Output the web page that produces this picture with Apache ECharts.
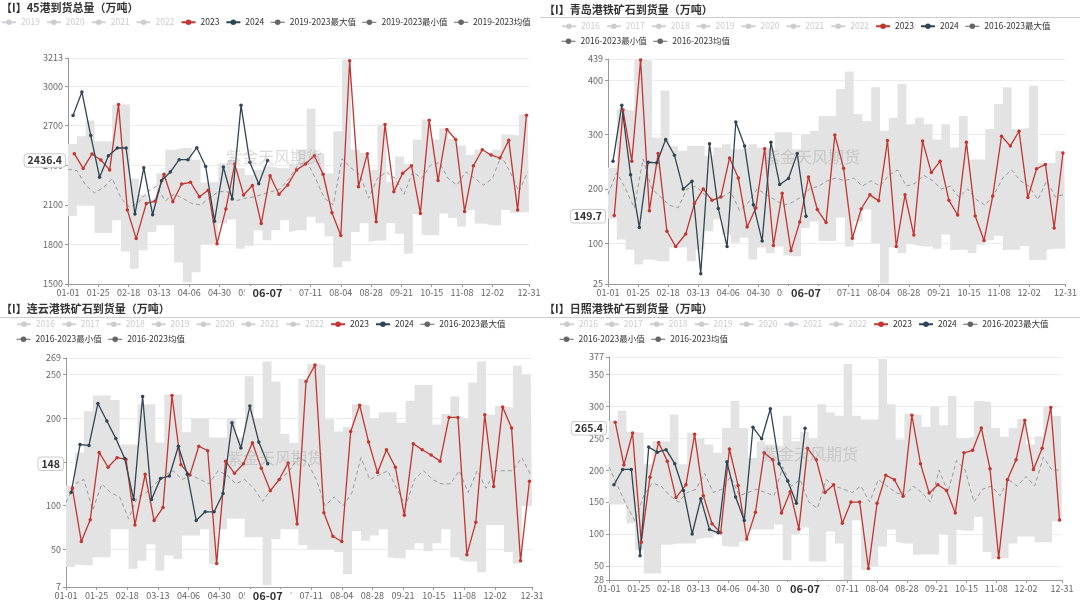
<!DOCTYPE html>
<html><head><meta charset="utf-8">
<script src="https://cdn.jsdelivr.net/npm/echarts@6/dist/echarts.min.js"></script>
<style>html,body{margin:0;padding:0;background:#fff}#c{width:1080px;height:603px}</style>
</head><body><div id="c"></div>
<script>
// ---------- text ----------
const titles = ['【I】45港到货总量（万吨）', '【I】青岛港铁矿石到货量（万吨）', '【I】连云港铁矿石到货量（万吨）', '【I】日照港铁矿石到货量（万吨）'];
const watermark = '紫金天风期货';
const yearsAll = ['2016', '2017', '2018', '2019', '2020', '2021', '2022'];
const p1Years = ['2019', '2020', '2021', '2022'];
const p1StatNames = ['2019-2023最大值', '2019-2023最小值', '2019-2023均值'];
const pStatNames = ['2016-2023最大值', '2016-2023最小值', '2016-2023均值'];
const yMins = [1500, 25, 7, 28];
const yMaxs = [3213, 439, 269, 377];

// ---------- 45港 ----------
const p1Red2023 = [2488, 2376, 2485, 2440, 2365, 2860, 2060, 1844, 2111, 2128, 2332, 2124, 2258, 2271, 2162, 2210, 1806, 2068, 2409, 2175, 2247, 1958, 2320, 2180, 2251, 2365, 2409, 2472, 2332, 2040, 1867, 3193, 2238, 2488, 1971, 2709, 2200, 2340, 2396, 2035, 2742, 2284, 2671, 2595, 2050, 2396, 2518, 2477, 2455, 2589, 2060, 2780];
const p1Dark2024 = [2778, 2956, 2625, 2310, 2472, 2531, 2531, 2030, 2381, 2025, 2282, 2348, 2442, 2442, 2533, 2391, 1976, 2386, 2144, 2854, 2422, 2259, 2436.4];
const p1Max = [2561, 2620, 2740, 2582, 2582, 2860, 2860, 2300, 2175, 2140, 2340, 2518, 2531, 2531, 2442, 2269, 2275, 2416, 2440, 2378, 2327, 2365, 2390, 2378, 2378, 2409, 2520, 2829, 2493, 2340, 2658, 3200, 2518, 2493, 2365, 2709, 2275, 2467, 2410, 2595, 2747, 2595, 2680, 2600, 2549, 2480, 2518, 2495, 2518, 2633, 2625, 2785, 2780];
const p1Min = [2017, 2100, 2098, 1887, 1887, 1984, 1747, 1615, 1755, 1895, 1945, 1945, 1663, 1513, 1589, 1800, 1800, 1958, 1989, 1768, 1790, 1907, 1831, 1907, 1984, 1895, 1907, 2009, 1960, 1860, 1627, 1673, 1895, 1960, 1818, 1830, 1960, 1880, 1729, 2030, 1869, 1869, 2035, 2000, 1933, 2060, 1958, 1958, 1945, 2060, 2040, 2040, 2045];
const p1Mean = [2370, 2360, 2250, 2190, 2230, 2300, 2150, 2080, 2120, 2200, 2240, 2130, 2180, 2150, 2110, 2100, 2150, 2200, 2200, 2130, 2150, 2160, 2180, 2200, 2220, 2300, 2400, 2430, 2300, 2150, 2100, 2450, 2380, 2330, 2150, 2300, 2350, 2300, 2180, 2350, 2300, 2400, 2420, 2300, 2250, 2350, 2300, 2250, 2300, 2470, 2350, 2200, 2350];

// ---------- 青岛港 ----------
const p2Red2023 = [151, 345, 251, 437, 160, 265, 122, 94, 117, 173, 200, 179, 185, 257, 220, 130, 165, 274, 96, 192, 86, 139, 222, 162, 138, 299, 238, 109, 163, 189, 178, 289, 94, 189, 115, 288, 230, 251, 179, 152, 286, 150, 105, 187, 297, 279, 306, 184, 237, 245, 128, 266];
const p2Dark2024 = [251, 354, 226, 129, 249, 248, 291, 262, 200, 214, 44, 283, 164, 94, 323, 279, 171, 104, 286, 208, 219, 265, 149.7];
const p2Max = [239, 346, 344, 438, 436, 294, 381, 279, 270, 279, 279, 261, 276, 282, 273, 276, 282, 276, 273, 304, 304, 273, 300, 307, 334, 334, 384, 416, 338, 325, 387, 307, 331, 393, 319, 331, 319, 291, 319, 276, 334, 254, 254, 310, 356, 387, 310, 312, 390, 248, 248, 270, 270];
const p2Min = [145, 107, 88, 61, 70, 70, 67, 92, 92, 67, 88, 122, 144, 116, 101, 110, 70, 92, 82, 94, 79, 76, 128, 140, 104, 104, 147, 94, 140, 162, 100, 26, 92, 82, 100, 97, 94, 90, 116, 87, 88, 82, 97, 106, 114, 87, 88, 95, 69, 69, 88, 90, 90];
const p2Mean = [190, 230, 200, 165, 255, 200, 185, 170, 165, 200, 205, 190, 180, 185, 195, 160, 175, 200, 190, 180, 170, 175, 185, 200, 205, 215, 220, 215, 220, 205, 215, 205, 225, 235, 205, 210, 225, 215, 200, 205, 185, 200, 180, 170, 190, 220, 235, 215, 205, 180, 215, 185, 190];

// ---------- 连云港 ----------
const p3Red2023 = [120, 59, 84, 161, 144, 155, 153, 78, 136, 83, 98, 226, 147, 135, 168, 163, 34, 151, 137, 148, 172, 143, 117, 130, 149, 79, 242, 261, 92, 65, 59, 185, 215, 173, 138, 164, 144, 89, 171, 164, 158, 151, 201, 201, 44, 81, 204, 122, 213, 189, 37, 128];
const p3Dark2024 = [115, 170, 169, 217, 197, 177, 154, 107, 225, 107, 131, 134, 168, 136, 83, 93, 93, 114, 195, 166, 214, 173, 148];
const p3Max = [123, 161, 208, 226, 226, 221, 170, 170, 216, 216, 172, 227, 227, 184, 200, 200, 178, 178, 200, 178, 248, 200, 265, 242, 182, 172, 245, 262, 261, 199, 185, 190, 216, 215, 200, 207, 207, 195, 220, 238, 238, 193, 205, 225, 200, 241, 265, 204, 214, 212, 260, 250, 250];
const p3Min = [30, 33, 32, 41, 41, 73, 73, 28, 37, 56, 26, 43, 39, 66, 66, 73, 33, 73, 85, 85, 64, 64, 9, 62, 73, 73, 55, 50, 50, 50, 47, 22, 71, 60, 66, 73, 41, 40, 50, 57, 48, 57, 73, 41, 38, 36, 24, 78, 78, 47, 34, 100, 100];
const p3Mean = [104, 125, 130, 95, 125, 115, 110, 85, 110, 115, 125, 135, 140, 130, 135, 130, 125, 140, 135, 125, 130, 120, 105, 120, 130, 140, 155, 150, 130, 100, 110, 100, 115, 155, 130, 135, 140, 120, 100, 130, 140, 130, 125, 125, 140, 115, 140, 120, 140, 140, 140, 155, 135];

// ---------- 日照港 ----------
const p4Red2023 = [275, 208, 258, 87, 189, 243, 214, 157, 177, 256, 160, 116, 102, 233, 176, 92, 134, 227, 216, 133, 166, 108, 234, 216, 165, 177, 117, 150, 150, 46, 148, 192, 185, 159, 286, 210, 164, 177, 168, 133, 227, 231, 266, 202, 63, 185, 216, 278, 201, 234, 298, 122];
const p4Dark2024 = [177, 201, 201, 66, 236, 228, 232, 210, 168, 100, 155, 107, 102, 213, 158, 121, 267, 249, 296, 210, 183, 148, 265.4];
const p4Max = [277, 293, 260, 258, 209, 245, 245, 287, 209, 258, 250, 240, 227, 266, 308, 266, 219, 245, 240, 237, 285, 245, 260, 250, 303, 290, 285, 366, 285, 279, 279, 374, 303, 248, 288, 286, 268, 299, 270, 316, 250, 252, 308, 306, 266, 252, 266, 280, 240, 253, 300, 285, 285];
const p4Min = [146, 146, 117, 75, 38, 38, 83, 83, 85, 85, 91, 94, 100, 82, 80, 88, 107, 107, 107, 115, 59, 100, 110, 57, 57, 104, 85, 28, 121, 44, 49, 80, 107, 88, 85, 67, 68, 68, 100, 52, 107, 105, 127, 72, 60, 62, 85, 96, 96, 87, 87, 120, 120];
const p4Mean = [205, 175, 145, 120, 160, 180, 175, 160, 150, 165, 170, 195, 165, 170, 190, 160, 165, 170, 165, 160, 205, 175, 185, 150, 140, 185, 175, 170, 165, 175, 150, 185, 175, 165, 160, 175, 165, 150, 200, 165, 215, 200, 150, 170, 175, 160, 185, 175, 190, 175, 220, 200, 200];

// ---------- dates (category axis) ----------
const DAY = 864e5;
function mmdd(t) { const d = new Date(t); return String(d.getUTCMonth() + 1).padStart(2, '0') + '-' + String(d.getUTCDate()).padStart(2, '0'); }
const days = [];
for (let t = Date.UTC(2024, 0, 1); t <= Date.UTC(2024, 11, 31); t += DAY) days.push(mmdd(t));
function weekly(y, m, d, n) { const a = []; for (let i = 0; i < n; i++) a.push(mmdd(Date.UTC(y, m, d) + i * 7 * DAY)); return a; }
const dates2023 = weekly(2023, 0, 6, 52);
const dates2024 = weekly(2024, 0, 5, 23);
const binDates = weekly(2024, 0, 1, 53).concat(['12-31']);

const panels = [
  { red: p1Red2023, dark: p1Dark2024, max: p1Max, min: p1Min, mean: p1Mean, stat: p1StatNames, years: p1Years },
  { red: p2Red2023, dark: p2Dark2024, max: p2Max, min: p2Min, mean: p2Mean, stat: pStatNames, years: yearsAll },
  { red: p3Red2023, dark: p3Dark2024, max: p3Max, min: p3Min, mean: p3Mean, stat: pStatNames, years: yearsAll },
  { red: p4Red2023, dark: p4Dark2024, max: p4Max, min: p4Min, mean: p4Mean, stat: pStatNames, years: yearsAll }
];

// ---------- layout ----------
const FONT = '"Noto Sans CJK SC","Noto Sans",sans-serif';
const gridPos = [
  { left: 68, top: 58, width: 461, height: 226 },
  { left: 608, top: 59, width: 458, height: 225 },
  { left: 66, top: 358, width: 466, height: 229 },
  { left: 609, top: 357, width: 453, height: 223 }
];
const titlePos = [{ left: 1, top: 2 }, { left: 544, top: 4 }, { left: 1, top: 303 }, { left: 544, top: 303 }];
const wmPos = [[274, 157], [812, 157], [275, 458], [810, 454]];
const COL23 = '#c23531', COL24 = '#2f4554', STAT = '#666', BAND = '#e3e3e3';

const unselected = {}; yearsAll.forEach(y => unselected[y] = false);
function legendItems(names) {
  return names.map(n => {
    if (n.indexOf('值') >= 0) return { name: n, itemStyle: { color: STAT }, lineStyle: { color: STAT, width: 1, type: 'solid', opacity: 1 } };
    return { name: n };
  });
}
const legendBase = {
  orient: 'horizontal', padding: 0, itemWidth: 14, itemHeight: 7, itemGap: 6,
  textStyle: { fontSize: 8.5, color: '#333', fontFamily: FONT }, inactiveColor: '#ccc',
  selected: unselected, selectedMode: true
};
const legends = [
  Object.assign({}, legendBase, { left: 1, top: 18, data: legendItems(p1Years.concat(['2023', '2024'], p1StatNames)) }),
  Object.assign({}, legendBase, { left: 561, top: 22, data: legendItems(yearsAll.concat(['2023', '2024', pStatNames[0]])) }),
  Object.assign({}, legendBase, { left: 561, top: 37, data: legendItems([pStatNames[1], pStatNames[2]]) }),
  Object.assign({}, legendBase, { left: 16, top: 320, data: legendItems(yearsAll.concat(['2023', '2024', pStatNames[0]])) }),
  Object.assign({}, legendBase, { left: 16, top: 335, data: legendItems([pStatNames[1], pStatNames[2]]) }),
  Object.assign({}, legendBase, { left: 559, top: 320, data: legendItems(yearsAll.concat(['2023', '2024', pStatNames[0]])) }),
  Object.assign({}, legendBase, { left: 559, top: 335, data: legendItems([pStatNames[1], pStatNames[2]]) })
];

const lastIdx = days.indexOf(dates2024[dates2024.length - 1]);
const xAxes = [], yAxes = [], series = [];
yearsAll.forEach(y => series.push({ name: y, type: 'line', data: [], xAxisIndex: 0, yAxisIndex: 0, symbol: 'circle', itemStyle: { color: '#aaa' } }));

panels.forEach((p, i) => {
  xAxes.push({
    type: 'category', gridIndex: i, data: days, boundaryGap: false,
    axisLine: { lineStyle: { color: '#999' } },
    axisTick: { length: 3, lineStyle: { color: '#999' } },
    axisLabel: { interval: 23, showMaxLabel: true, fontSize: 9, color: '#666', margin: 4, fontFamily: FONT },
    splitLine: { show: false },
    axisPointer: {
      show: true, type: 'line', value: lastIdx, status: 'show', triggerTooltip: false,
      lineStyle: { opacity: 0 },
      label: { show: true, backgroundColor: '#fff', color: '#333', fontWeight: 'bold', fontSize: 11, padding: [1, 8], margin: 2, fontFamily: FONT, shadowBlur: 0 }
    }
  });
  const lastVal = p.dark[p.dark.length - 1];
  yAxes.push({
    type: 'value', gridIndex: i, min: yMins[i], max: yMaxs[i],
    axisLine: { show: true, lineStyle: { color: '#999' } },
    axisTick: { show: true, length: 3, lineStyle: { color: '#999' } },
    axisLabel: { fontSize: 9, color: '#666', margin: 5, fontFamily: FONT, formatter: v => String(v) },
    splitLine: { lineStyle: { color: '#ececec' } },
    axisPointer: {
      show: true, type: 'line', value: lastVal, status: 'show', triggerTooltip: false,
      lineStyle: { opacity: 0 },
      label: { show: true, formatter: () => String(lastVal), backgroundColor: '#fff', borderColor: '#ccc', borderWidth: 1, color: '#333', fontWeight: 'bold', fontSize: 10.5, padding: [1, 3], margin: 3, fontFamily: FONT, shadowBlur: 0 }
    }
  });
  const last = p.min.length - 1;
  series.push({
    name: p.stat[1], type: 'line', xAxisIndex: i, yAxisIndex: i, stack: 'band' + i, step: 'end',
    symbol: 'circle', showSymbol: false, silent: true,
    data: binDates.map((d, k) => [d, p.min[Math.min(k, last)]]),
    lineStyle: { width: 0 }, itemStyle: { color: STAT }
  });
  series.push({
    name: p.stat[0], type: 'line', xAxisIndex: i, yAxisIndex: i, stack: 'band' + i, step: 'end',
    symbol: 'circle', showSymbol: false, silent: true,
    data: binDates.map((d, k) => [d, p.max[Math.min(k, last)] - p.min[Math.min(k, last)]]),
    lineStyle: { width: 0 }, itemStyle: { color: STAT }, areaStyle: { color: BAND, opacity: 1 }
  });
  series.push({
    name: p.stat[2], type: 'line', xAxisIndex: i, yAxisIndex: i,
    symbol: 'circle', showSymbol: false, silent: true,
    data: binDates.slice(0, p.mean.length).map((d, k) => [d, p.mean[k]]),
    lineStyle: { color: '#9a9a9a', width: 1, type: [4, 3] }, itemStyle: { color: STAT }
  });
  series.push({
    name: '2023', type: 'line', xAxisIndex: i, yAxisIndex: i,
    symbol: 'circle', symbolSize: 3.5, showSymbol: true, showAllSymbol: true,
    data: dates2023.map((d, k) => [d, p.red[k]]),
    lineStyle: { color: COL23, width: 1.3 }, itemStyle: { color: COL23 }
  });
  series.push({
    name: '2024', type: 'line', xAxisIndex: i, yAxisIndex: i,
    symbol: 'circle', symbolSize: 3.5, showSymbol: true, showAllSymbol: true,
    data: dates2024.map((d, k) => [d, p.dark[k]]),
    lineStyle: { color: COL24, width: 1.3 }, itemStyle: { color: COL24 }
  });
});

const graphics = [
  { type: 'line', shape: { x1: 540, y1: 17.5, x2: 1080, y2: 17.5 }, style: { stroke: '#ccc', lineWidth: 1 } },
  { type: 'line', shape: { x1: 0, y1: 317.5, x2: 1080, y2: 317.5 }, style: { stroke: '#ccc', lineWidth: 1 } }
];
wmPos.forEach(pt => graphics.push({
  type: 'text', x: pt[0], y: pt[1], z: 100, silent: true,
  style: { text: watermark, fill: 'rgba(150,150,150,0.35)', fontSize: 16, fontFamily: FONT, align: 'center', verticalAlign: 'middle' }
}));

const chart = echarts.init(document.getElementById('c'), null, { renderer: 'canvas' });
chart.setOption({
  backgroundColor: '#fff',
  animation: false,
  textStyle: { fontFamily: FONT },
  title: titles.map((t, i) => ({ text: t, left: titlePos[i].left, top: titlePos[i].top, padding: 0, textStyle: { fontSize: 11, fontWeight: 'bold', color: '#333', fontFamily: FONT } })),
  legend: legends,
  grid: gridPos,
  xAxis: xAxes,
  yAxis: yAxes,
  series: series,
  graphic: graphics
});
</script></body></html>
